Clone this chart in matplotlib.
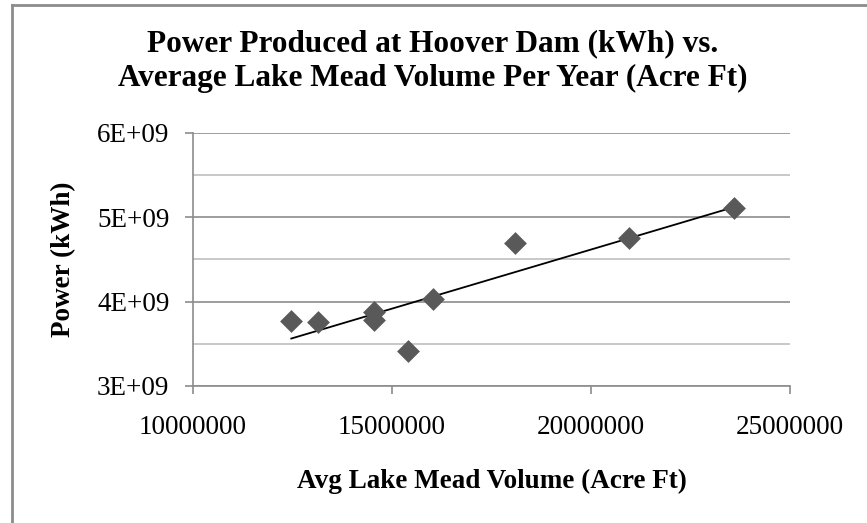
import matplotlib
matplotlib.use("Agg")
import matplotlib.pyplot as plt
from matplotlib.lines import Line2D
from matplotlib.ticker import MultipleLocator, FuncFormatter
import numpy as np

# Avg Lake Mead volume (acre ft) vs power produced (kWh)
volume = [12470000, 13140000, 14540000, 14540000, 15390000, 16040000, 18080000, 20950000, 23590000]
power = [3.77e9, 3.76e9, 3.88e9, 3.78e9, 3.41e9, 4.03e9, 4.69e9, 4.75e9, 5.11e9]

x_ticks = [10000000, 15000000, 20000000, 25000000]
y_ticks = [3e9, 4e9, 5e9, 6e9]

title = "Power Produced at Hoover Dam (kWh) vs.\nAverage Lake Mead Volume Per Year (Acre Ft)"
xlabel = "Avg Lake Mead Volume (Acre Ft)"
ylabel = "Power (kWh)"

plt.rcParams['font.family'] = ['Liberation Serif', 'DejaVu Serif']

fig = plt.figure(figsize=(8.67, 5.23), dpi=100)
ax = fig.add_axes([0.2226, 0.262, 0.6886, 0.4837])

# linear trendline over the data range
slope, icpt = np.polyfit(volume, power, 1)
xs = np.array([min(volume), max(volume)])
ax.plot(xs, slope * xs + icpt, color='black', linewidth=1.3, zorder=2)

ax.scatter(volume, power, marker='D', s=135, color='#595959', zorder=3, linewidths=0)

ax.set_xlim(x_ticks[0], x_ticks[-1])
ax.set_ylim(y_ticks[0], y_ticks[-1])
ax.set_xticks(x_ticks)
ax.set_yticks(y_ticks)
ax.yaxis.set_minor_locator(MultipleLocator(0.5e9))
ax.xaxis.set_major_formatter(FuncFormatter(lambda v, p: f"{int(v)}"))
ax.yaxis.set_major_formatter(FuncFormatter(lambda v, p: f"{int(round(v / 1e9))}E+09"))

ax.grid(which='major', axis='y', color='#8c8c8c', linewidth=1.2)
ax.grid(which='minor', axis='y', color='#bfbfbf', linewidth=1.2)
ax.set_axisbelow(True)

for s in ['top', 'right']:
    ax.spines[s].set_visible(False)
for s in ['left', 'bottom']:
    ax.spines[s].set_color('#8c8c8c')
    ax.spines[s].set_linewidth(1.2)

ax.tick_params(axis='both', which='major', direction='out', length=6, width=1.2,
               color='#8c8c8c', labelsize=19.5, labelcolor='black')
ax.tick_params(axis='y', which='minor', length=0)
ax.tick_params(axis='x', pad=15)
ax.tick_params(axis='y', pad=11)

ax.set_xlabel(xlabel, fontsize=19.5, fontweight='bold', labelpad=21)
ax.set_ylabel(ylabel, fontsize=19.5, fontweight='bold', labelpad=15)
fig.text(0.4995, 0.883, title, ha='center', va='center', fontsize=22.5,
         fontweight='bold', linespacing=1.25)

# chart area border (top and left edges visible)
fig.add_artist(Line2D([12 / 867, 12 / 867], [0, 1 - 5 / 523], color='#8c8c8c', linewidth=2))
fig.add_artist(Line2D([12 / 867, 1], [1 - 5 / 523, 1 - 5 / 523], color='#8c8c8c', linewidth=2))

fig.savefig("out.png", dpi=100)
